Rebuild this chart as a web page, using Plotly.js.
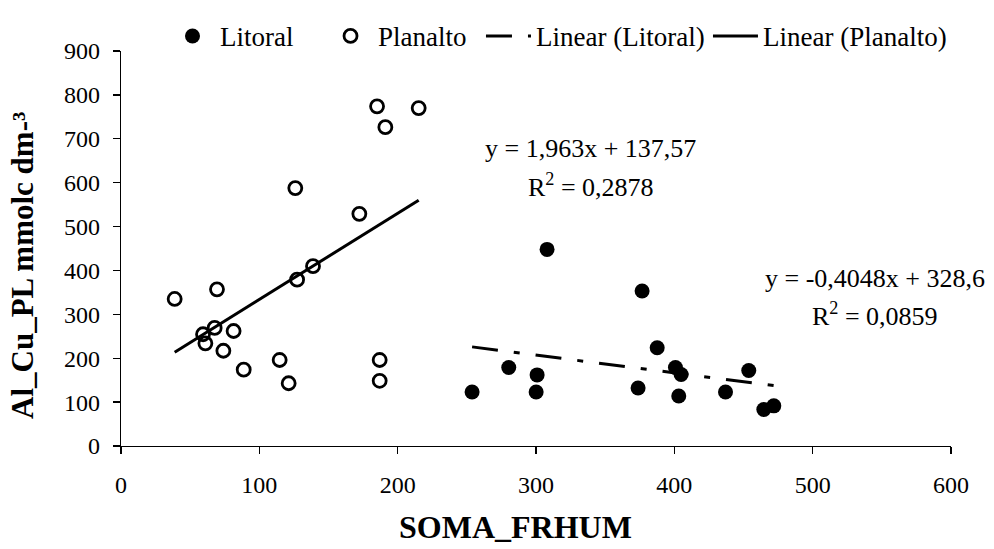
<!DOCTYPE html>
<html>
<head>
<meta charset="utf-8">
<script src="https://cdn.plot.ly/plotly-3.0.1.min.js"></script>
<style>html,body{margin:0;padding:0;background:#fff;}#chart{width:994px;height:549px;}</style>
</head>
<body>
<div id="chart"></div>
<script>
// Litoral (filled circles)
const litoralX = [253.8, 280.3, 300.8, 300.1, 308.0, 373.8, 376.7, 387.6, 400.8, 404.9, 403.2, 437.0, 453.8, 464.7, 471.9];
const litoralY = [123, 179, 162, 123, 448, 132, 353, 224, 179, 163, 114, 123, 172, 83, 91.5];

// Planalto (open circles)
const planaltoX = [38.8, 59.3, 61.0, 67.7, 69.4, 74.0, 81.4, 88.7, 114.7, 121.2, 126.0, 127.3, 138.8, 172.3, 185.1, 191.1, 187.0, 187.0, 215.2];
const planaltoY = [335, 254.6, 234, 269, 357, 217, 262, 174, 196, 143, 587.6, 379, 409.8, 529, 774, 726.5, 196, 148.6, 770];

// Trendline coefficients shown on the chart
const litoralSlope = -0.4048, litoralIntercept = 328.6, litoralR2 = "0,0859";
const planaltoSlope = 1.963, planaltoIntercept = 137.57, planaltoR2 = "0,2878";

const xTicks = [0, 100, 200, 300, 400, 500, 600];
const yTicks = [0, 100, 200, 300, 400, 500, 600, 700, 800, 900];

const xTitle = 'SOMA_FRHUM';
const yTitle = 'Al_Cu_PL mmolc dm-³';

function trend(xs, m, b) {
  const x0 = Math.min(...xs), x1 = Math.max(...xs);
  return { x: [x0, x1], y: [m * x0 + b, m * x1 + b] };
}
const tL = trend(litoralX, litoralSlope, litoralIntercept);
const tP = trend(planaltoX, planaltoSlope, planaltoIntercept);

const FONT = '"Liberation Serif", "Times New Roman", Times, serif';
const legFont = { family: FONT, size: 27, color: '#000' };

const traces = [
  { x: litoralX, y: litoralY, type: 'scatter', mode: 'markers', name: 'Litoral', legend: 'legend',
    marker: { symbol: 'circle', size: 15, color: '#000' }, cliponaxis: false },
  { x: planaltoX, y: planaltoY, type: 'scatter', mode: 'markers', name: 'Planalto', legend: 'legend2',
    marker: { symbol: 'circle-open', size: 13, color: '#000', line: { width: 2.8, color: '#000' } }, cliponaxis: false },
  { x: tL.x, y: tL.y, type: 'scatter', mode: 'lines', name: 'Linear (Litoral)', legend: 'legend3',
    line: { color: '#000', width: 3, dash: '26px,16px,6px,16px' } },
  { x: tP.x, y: tP.y, type: 'scatter', mode: 'lines', name: 'Linear (Planalto)', legend: 'legend4',
    line: { color: '#000', width: 3 } }
];

function leg(xp) {
  return { orientation: 'h', x: xp, xanchor: 'left', y: 1.037, yanchor: 'middle',
    font: legFont, bgcolor: 'rgba(0,0,0,0)', itemwidth: 45 };
}

const layout = {
  width: 994, height: 549,
  margin: { l: 121, r: 43, t: 36, b: 103 },
  paper_bgcolor: '#fff', plot_bgcolor: '#fff',
  font: { family: FONT, size: 24, color: '#000' },
  showlegend: true,
  legend: leg(0.053),
  legend2: leg(0.2434),
  legend3: leg(0.4337),
  legend4: leg(0.7072),
  xaxis: {
    range: [0, 600], tickvals: xTicks, ticktext: xTicks.map(String),
    showgrid: false, zeroline: false, showline: true, linecolor: '#000', linewidth: 1.3,
    ticks: 'outside', ticklen: 7, tickwidth: 1.3, tickcolor: '#000',
    tickfont: { family: FONT, size: 24, color: '#000' }, ticklabelstandoff: 10
  },
  yaxis: {
    range: [0, 900], tickvals: yTicks, ticktext: yTicks.map(String),
    showgrid: false, zeroline: false, showline: true, linecolor: '#000', linewidth: 1.3,
    ticks: 'outside', ticklen: 7, tickwidth: 1.3, tickcolor: '#000',
    tickfont: { family: FONT, size: 24, color: '#000' }, ticklabelstandoff: 8
  },
  annotations: [
    { x: 0.475, y: -0.205, xref: 'paper', yref: 'paper', text: '<b>' + xTitle + '</b>', showarrow: false,
      xanchor: 'center', yanchor: 'middle', font: { family: FONT, size: 32, color: '#000' } },
    { x: -0.118, y: 0.456, xref: 'paper', yref: 'paper', text: '<b>' + yTitle + '</b>', showarrow: false,
      textangle: -90, xanchor: 'center', yanchor: 'middle', font: { family: FONT, size: 31, color: '#000' } },
    { x: 339.6, y: 677, xref: 'x', yref: 'y', text: 'y = 1,963x + 137,57', showarrow: false,
      xanchor: 'center', yanchor: 'middle', font: { family: FONT, size: 26, color: '#000' } },
    { x: 339.6, y: 594, xref: 'x', yref: 'y', text: 'R<sup>2</sup> = ' + planaltoR2, showarrow: false,
      xanchor: 'center', yanchor: 'middle', font: { family: FONT, size: 26, color: '#000' } },
    { x: 545, y: 382, xref: 'x', yref: 'y', text: 'y = -0,4048x + 328,6', showarrow: false,
      xanchor: 'center', yanchor: 'middle', font: { family: FONT, size: 26, color: '#000' } },
    { x: 545, y: 299, xref: 'x', yref: 'y', text: 'R<sup>2</sup> = ' + litoralR2, showarrow: false,
      xanchor: 'center', yanchor: 'middle', font: { family: FONT, size: 26, color: '#000' } }
  ]
};

Plotly.newPlot('chart', traces, layout, { displayModeBar: false, staticPlot: true });
</script>
</body>
</html>
